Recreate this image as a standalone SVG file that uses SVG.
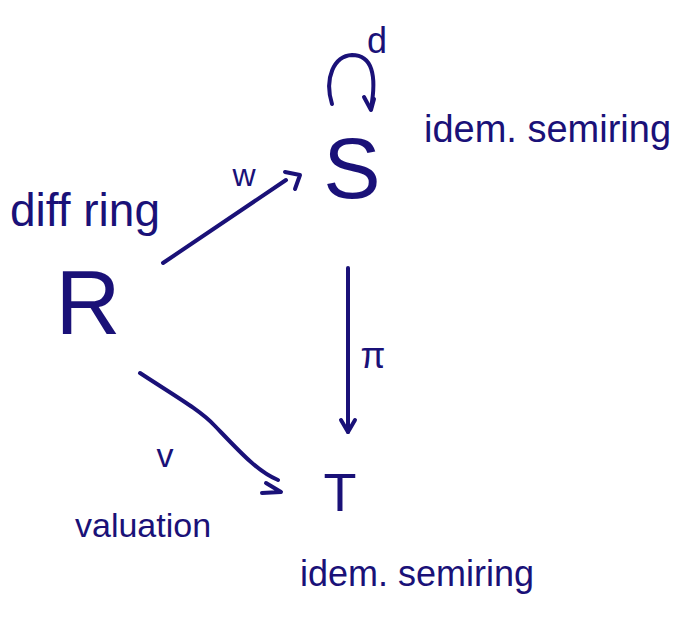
<svg xmlns="http://www.w3.org/2000/svg" width="687" height="621" viewBox="0 0 687 621">
<style>
text { font-family: "Liberation Sans", "DejaVu Sans", sans-serif; fill: #1a1178; }
.conn { fill: none; stroke: #1a1178; stroke-width: 4; stroke-linecap: round; stroke-linejoin: round; }
</style>
<rect width="687" height="621" fill="#ffffff"/>
<g id="connectors">
  <g id="edge-w">
    <path class="conn" d="M163,263 L286,180"/>
    <path class="conn" d="M285,172 L300,175 L295,189"/>
    <text x="244" y="186" font-size="32" text-anchor="middle">w</text>
  </g>
  <g id="edge-pi">
    <path class="conn" d="M348,268 L348,432"/>
    <path class="conn" d="M341,420 L348,432 L355,420"/>
    <text x="373" y="368" font-size="36" text-anchor="middle">π</text>
  </g>
  <g id="edge-v">
    <path class="conn" d="M140,373 C175,396 200,410 215,426 C240,452 258,472 278,480"/>
    <path class="conn" d="M266,483 L281,492 L262,493"/>
    <text x="165" y="467" font-size="34" text-anchor="middle">v</text>
  </g>
  <g id="edge-d">
    <path class="conn" d="M332,104 C324,78 334,56 352,55 C372,55 377,75 371,108"/>
    <path class="conn" d="M364,97 L371,110 L374,99"/>
    <text x="377" y="53" font-size="36" text-anchor="middle">d</text>
  </g>
</g>
<g id="node-S">
  <text x="352" y="198" font-size="86" text-anchor="middle">S</text>
  <text x="424" y="142" font-size="38">idem. semiring</text>
</g>
<g id="node-R">
  <text x="88" y="334" font-size="90" text-anchor="middle">R</text>
  <text x="10" y="226" font-size="46" textLength="150" lengthAdjust="spacingAndGlyphs">diff ring</text>
</g>
<g id="node-T">
  <text x="340" y="511" font-size="54" text-anchor="middle">T</text>
  <text x="300" y="586" font-size="36">idem. semiring</text>
  <text x="75" y="537" font-size="34">valuation</text>
</g>
</svg>
